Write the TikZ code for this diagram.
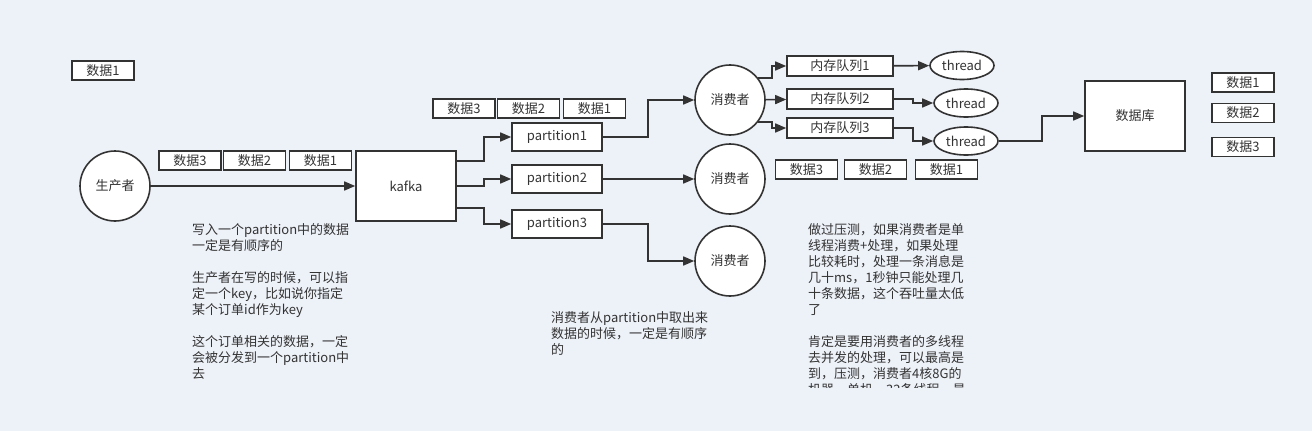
\documentclass[tikz,border=0pt]{standalone}
\usepackage{fontspec}
\setmainfont{Noto Sans CJK SC}
\usetikzlibrary{arrows.meta,positioning,shapes.geometric}
\definecolor{bgc}{RGB}{237,241,248}
\definecolor{ink}{RGB}{51,51,51}

\begin{document}
\begin{tikzpicture}[x=1pt,y=-1pt,
  every node/.style={font=\fontsize{13}{16}\selectfont,text=ink},
  box/.style={draw=ink,line width=1.6pt,fill=white,inner sep=0pt},
  dat/.style={box,minimum width=62pt,minimum height=19pt},
  cons/.style={draw=ink,line width=1.6pt,fill=white,circle,minimum size=70pt,inner sep=0pt},
  conn/.style={draw=ink,line width=1.6pt,-{Triangle[length=11pt,width=9pt]}},
  note/.style={align=left,anchor=north west,inner sep=0pt}]
\useasboundingbox[fill=bgc] (0,0) rectangle (1312,431);

% producer and kafka
\node [dat] (d0) at (103,70.5) {数据1};
\node [cons] (p) at (115,186) {生产者};
\node [box,minimum width=100pt,minimum height=70pt] (k) at (406,186) {kafka};
\node [dat] (a3) at (190,160.5) {数据3};
\node [dat] (a2) at (254.5,160.5) {数据2};
\node [dat] (a1) at (320.5,160.5) {数据1};
\draw [conn] (p) -- (k);

% partitions
\node [box,minimum width=90pt,minimum height=28pt] (p1) at (557,137) {partition1};
\node [box,minimum width=90pt,minimum height=28pt] (p2) at (557,179) {partition2};
\node [box,minimum width=90pt,minimum height=28pt] (p3) at (557,224) {partition3};
\node [dat] (b3) at (464,108.5) {数据3};
\node [dat] (b2) at (528.5,108.5) {数据2};
\node [dat] (b1) at (594.5,108.5) {数据1};
\draw [conn] (k.east |- 0,161) -| (484,137) -- (p1);
\draw [conn] (k.east |- 0,186) -| (484,179) -- (p2);
\draw [conn] (k.east |- 0,208) -| (484,224) -- (p3);

% consumers
\node [cons] (c1) at (730,100) {消费者};
\node [cons] (c2) at (730,179) {消费者};
\node [cons] (c3) at (730,261) {消费者};
\draw [conn] (p1) -| (648,100) -- (c1);
\draw [conn] (p2) -- (c2);
\draw [conn] (p3) -| (648,261) -- (c3);

% queues and threads
\node [box,minimum width=106pt,minimum height=20pt] (q1) at (840,66) {内存队列1};
\node [box,minimum width=106pt,minimum height=20pt] (q2) at (840,99) {内存队列2};
\node [box,minimum width=106pt,minimum height=20pt] (q3) at (840,128) {内存队列3};
\node [box,ellipse,minimum width=64pt,minimum height=28pt] (t1) at (962,65.5) {thread};
\node [box,ellipse,minimum width=64pt,minimum height=28pt] (t2) at (966,103) {thread};
\node [box,ellipse,minimum width=64pt,minimum height=28pt] (t3) at (966,141) {thread};
\draw [conn] (c1.38) -| (772,66) -- (q1);
\draw [conn] (c1) -- (q2);
\draw [conn] (c1.-38) -| (772,128) -- (q3);
\draw [conn] (q1) -- (t1);
\draw [conn] (q2) -| (913,103) -- (t2);
\draw [conn] (q3) -| (913,141) -- (t3);
\node [dat] (e3) at (806.5,169.5) {数据3};
\node [dat] (e2) at (875.5,169.5) {数据2};
\node [dat] (e1) at (946.5,169.5) {数据1};

% database
\node [box,minimum width=100pt,minimum height=70pt] (db) at (1135,116) {数据库};
\draw [conn] (t3) -| (1042,116) -- (db);
\node [dat] (f1) at (1243,82.5) {数据1};
\node [dat] (f2) at (1243,113) {数据2};
\node [dat] (f3) at (1243,147) {数据3};

% notes
\node [note] (n1) at (192,223) {写入一个partition中的数据\\一定是有顺序的\\[16pt]
  生产者在写的时候，可以指\\定一个key，比如说你指定\\某个订单id作为key\\[16pt]
  这个订单相关的数据，一定\\会被分发到一个partition中\\去};
\node [note] (n2) at (551,311) {消费者从partition中取出来\\数据的时候，一定是有顺序\\的};
\begin{scope}
\clip (800,200) rectangle (1000,387);
\node [note] (n3) at (808,223) {做过压测，如果消费者是单\\线程消费+处理，如果处理\\比较耗时，处理一条消息是\\几十ms，1秒钟只能处理几\\十条数据，这个吞吐量太低\\了\\[16pt]
  肯定是要用消费者的多线程\\去并发的处理，可以最高是\\到，压测，消费者4核8G的\\机器，单机，32条线程，最};
\end{scope}
\end{tikzpicture}
\end{document}
